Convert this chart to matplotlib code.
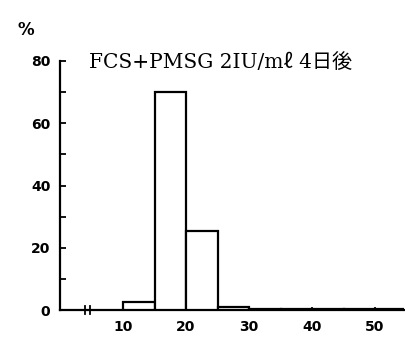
import matplotlib
matplotlib.use("Agg")
import matplotlib.pyplot as plt
from matplotlib.ticker import MultipleLocator

# Data: diameter bins (left edges), width, percentage
bin_left = [10, 15, 20, 25, 30, 35, 40, 45, 50]
bin_width = 5
percent = [2.5, 70, 25.5, 1, 0.3, 0.3, 0.3, 0.3, 0.3]
x_ticks = [10, 20, 30, 40, 50]
y_ticks = [0, 20, 40, 60, 80]
title = "FCS+PMSG 2IU/mℓ 4日後"

fig = plt.figure(figsize=(4.06, 3.48), dpi=100)
ax = fig.add_axes([60/406, 1-310/348, (404-60)/406, (310-61)/348])

ax.bar(bin_left, percent, width=bin_width, align='edge', facecolor='white',
       edgecolor='black', linewidth=1.6, zorder=3)

ax.set_xlim(0, 54.6)
ax.set_ylim(0, 80)
for s in ['top', 'right']:
    ax.spines[s].set_visible(False)
for s in ['left', 'bottom']:
    ax.spines[s].set_linewidth(1.6)

ax.yaxis.set_minor_locator(MultipleLocator(10))
ax.set_yticks(y_ticks)
ax.tick_params(axis='y', which='both', direction='in', length=4, width=1.3, pad=7,
               labelsize=10)
ax.set_xticks(x_ticks)
ax.tick_params(axis='x', which='major', direction='in', length=2, width=1.2, pad=7,
               labelsize=10)
for lab in ax.get_xticklabels() + ax.get_yticklabels():
    lab.set_fontweight('heavy')

# axis break marks
for xb in (4.0, 4.8):
    ax.plot([xb, xb], [-1.2, 1.2], color='black', lw=1.3, clip_on=False, zorder=4)

fig.text(18/406, 1-30/348, '%', fontsize=12, fontweight='bold', ha='left', va='center')
fig.text(221/406, 1-62/348, title, fontsize=14.5,
         family=['DejaVu Serif', 'Noto Sans CJK JP'], ha='center', va='center')

fig.savefig('out.png', dpi=100)
